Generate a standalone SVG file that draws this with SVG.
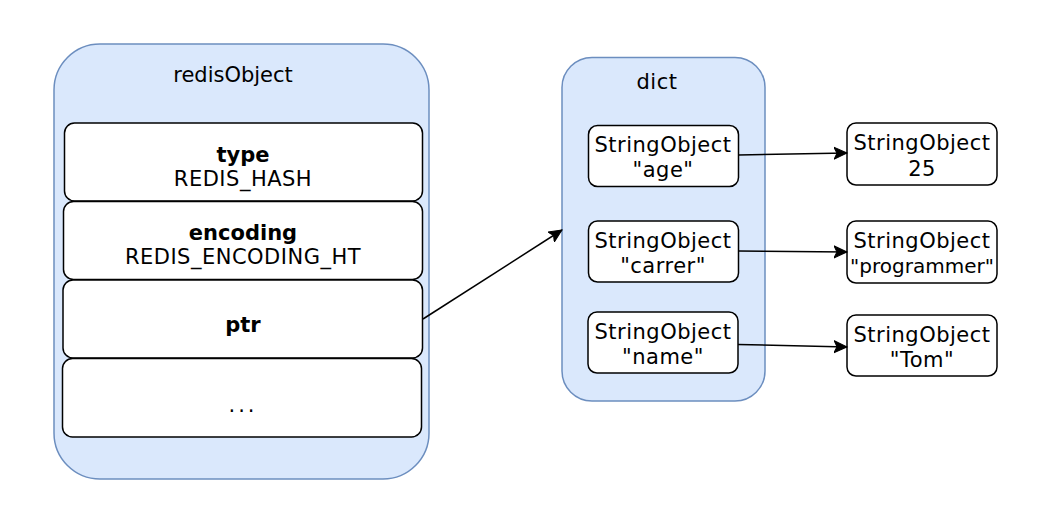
<svg xmlns="http://www.w3.org/2000/svg" width="1045" height="528" viewBox="0 0 1045 528">
<style>
.cont{fill:#dae8fc;stroke:#6c8ebf;stroke-width:1.5}
.box{fill:#ffffff;stroke:#000000;stroke-width:1.5}
text{font-family:"Comic Sans MS","DejaVu Sans",sans-serif;font-size:21px;letter-spacing:0.5px;fill:#000000;text-anchor:middle}
.b{font-weight:bold;letter-spacing:0}
.n{font-size:20px;letter-spacing:0}
.edge{fill:none;stroke:#000000;stroke-width:1.5}
</style>
<defs>
<marker id="arr" viewBox="-13 -7 15 14" markerWidth="15" markerHeight="14" refX="0" refY="0" orient="auto" markerUnits="userSpaceOnUse">
<path d="M0,0 L-13,-6 L-10,0 L-13,6 Z" fill="#000000" stroke="#000000" stroke-width="1"/>
</marker>
</defs>
<rect width="1045" height="528" fill="#ffffff"/>
<g id="redisObject">
<rect class="cont" x="54" y="44" width="375" height="435" rx="46" ry="46"/>
<text x="233" y="82" style="letter-spacing:0">redisObject</text>
</g>
<g id="type">
<rect class="box" x="64.500" y="123" width="358" height="78" rx="10" ry="10"/>
<text class="b" x="243" y="162">type</text>
<text x="243" y="186">REDIS_HASH</text>
</g>
<g id="encoding">
<rect class="box" x="63.500" y="201.500" width="359" height="78" rx="10" ry="10"/>
<text class="b" x="243" y="240">encoding</text>
<text x="243" y="264">REDIS_ENCODING_HT</text>
</g>
<g id="ptr">
<rect class="box" x="63" y="280" width="359.500" height="78" rx="10" ry="10"/>
<text class="b" x="243" y="332">ptr</text>
</g>
<g id="more">
<rect class="box" x="62.500" y="358.500" width="359" height="78.500" rx="10" ry="10"/>
<text x="243" y="412" style="letter-spacing:3px">...</text>
</g>
<g id="dict">
<rect class="cont" x="562" y="57.500" width="203" height="343.500" rx="30" ry="30"/>
<text x="657" y="89">dict</text>
</g>
<g id="key-age">
<rect class="box" x="588.500" y="125.500" width="150" height="61" rx="9" ry="9"/>
<text x="663" y="152">StringObject</text>
<text x="663" y="177">"age"</text>
</g>
<g id="key-carrer">
<rect class="box" x="588.500" y="221" width="150" height="61" rx="9" ry="9"/>
<text x="663" y="248">StringObject</text>
<text x="663" y="273">"carrer"</text>
</g>
<g id="key-name">
<rect class="box" x="588" y="312" width="150" height="61" rx="9" ry="9"/>
<text x="663" y="339">StringObject</text>
<text x="663" y="364">"name"</text>
</g>
<g id="val-25">
<rect class="box" x="847" y="123" width="150" height="62" rx="9" ry="9"/>
<text x="922" y="150">StringObject</text>
<text x="922" y="176">25</text>
</g>
<g id="val-programmer">
<rect class="box" x="847" y="221" width="150" height="62" rx="9" ry="9"/>
<text x="922" y="248">StringObject</text>
<text class="n" x="922" y="273">"programmer"</text>
</g>
<g id="val-tom">
<rect class="box" x="847" y="315" width="150" height="61" rx="9" ry="9"/>
<text x="922" y="342">StringObject</text>
<text x="922" y="367">"Tom"</text>
</g>
<g id="connectors">
<path class="edge" d="M423,319 L562,230" marker-end="url(#arr)"/>
<path class="edge" d="M738.500,155 L847,153" marker-end="url(#arr)"/>
<path class="edge" d="M738.500,251 L847,252" marker-end="url(#arr)"/>
<path class="edge" d="M738,344.500 L847,347" marker-end="url(#arr)"/>
</g>
</svg>
